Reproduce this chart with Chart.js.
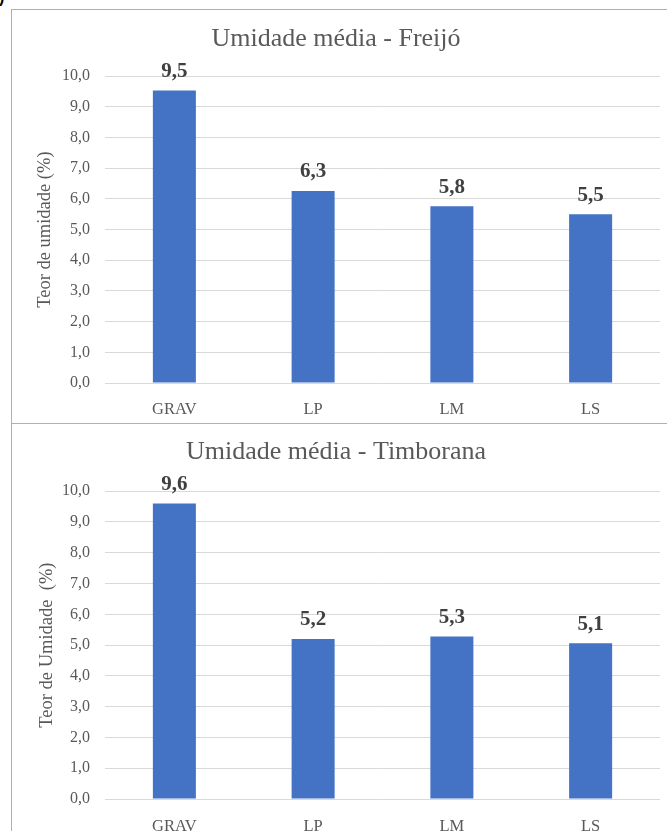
<!DOCTYPE html>
<html>
<head>
<meta charset="utf-8">
<script src="https://cdn.jsdelivr.net/npm/chart.js@4.4.1/dist/chart.umd.min.js"></script>
<style>
  html, body { margin: 0; padding: 0; background: #fff; }
  body { width: 667px; height: 831px; overflow: hidden; position: relative; font-family: "Liberation Serif", serif; }
  .painel { position: absolute; left: 11px; width: 700px; border-left: 1px solid #b0b0b0; border-top: 1px solid #b0b0b0; }
  #painel-freijo { top: 9px; height: 414px; }
  #painel-timborana { top: 423px; height: 420px; }
  canvas { position: absolute; left: 0; top: 0; }
  #marca { position: absolute; left: -1px; top: -11px; font: bold 16px "Liberation Sans", sans-serif; color: #000; }
</style>
</head>
<body>
<div id="marca">)</div>
<div class="painel" id="painel-freijo"><canvas id="grafico-freijo" width="655" height="413"></canvas></div>
<div class="painel" id="painel-timborana"><canvas id="grafico-timborana" width="655" height="413"></canvas></div>

<script>
// Dados das duas gráficas
const categorias = ['GRAV', 'LP', 'LM', 'LS'];
const umidadeFreijo = [9.53, 6.26, 5.76, 5.5];
const umidadeTimborana = [9.6, 5.2, 5.28, 5.06];
const ticksY = [0, 1, 2, 3, 4, 5, 6, 7, 8, 9, 10];

Chart.defaults.font.family = '"Liberation Serif", "Times New Roman", serif';
Chart.defaults.color = '#595959';

const virgula = v => Number(v).toFixed(1).replace('.', ',');

// rótulos em negrito acima das barras
const rotulosBarras = {
  id: 'rotulosBarras',
  afterDatasetsDraw(chart) {
    const c = chart.ctx;
    const meta = chart.getDatasetMeta(0);
    const dados = chart.data.datasets[0].data;
    c.save();
    c.font = 'bold 21px "Liberation Serif", serif';
    c.fillStyle = '#404040';
    c.textAlign = 'center';
    c.textBaseline = 'middle';
    meta.data.forEach((barra, i) => {
      c.fillText(virgula(dados[i]), barra.x, barra.y - 19);
    });
    c.restore();
  }
};

function criarGrafico(id, titulo, tituloY, valores, pad) {
  return new Chart(document.getElementById(id), {
    type: 'bar',
    data: {
      labels: categorias,
      datasets: [{
        data: valores,
        backgroundColor: '#4472C4',
        barPercentage: 0.31,
        categoryPercentage: 1.0
      }]
    },
    options: {
      responsive: false,
      animation: false,
      events: [],
      layout: { padding: { left: 0, right: 7, top: 0, bottom: 0 } },
      plugins: {
        legend: { display: false },
        tooltip: { enabled: false },
        title: {
          display: true,
          text: titulo,
          color: '#595959',
          font: { size: 26, weight: 'normal' },
          padding: { top: pad.tituloTopo, bottom: pad.tituloBase }
        }
      },
      scales: {
        x: {
          grid: { display: false },
          border: { display: false },
          ticks: { color: '#595959', font: { size: 16.5 }, padding: pad.xPad },
          afterFit(scale) { scale.height = pad.xAltura; }
        },
        y: {
          min: 0,
          max: 10,
          afterBuildTicks(scale) { scale.ticks = ticksY.map(v => ({ value: v })); },
          grid: { color: '#d9d9d9', lineWidth: 1, drawTicks: false },
          border: { display: false },
          ticks: { color: '#595959', font: { size: 16 }, padding: 15, callback: v => virgula(v) },
          title: {
            display: true,
            text: tituloY,
            color: '#595959',
            font: { size: 18.5 },
            padding: { top: pad.yTitulo, bottom: 0 }
          },
          afterFit(scale) { scale.width = 93; }
        }
      }
    },
    plugins: [rotulosBarras]
  });
}

criarGrafico('grafico-freijo', 'Umidade média - Freijó', 'Teor de umidade (%)', umidadeFreijo,
  { tituloTopo: 14, tituloBase: 21, xPad: 9, xAltura: 40, yTitulo: 22 });
criarGrafico('grafico-timborana', 'Umidade média - Timborana', 'Teor de Umidade  (%)', umidadeTimborana,
  { tituloTopo: 13, tituloBase: 23, xPad: 10, xAltura: 38, yTitulo: 24 });
</script>
</body>
</html>
